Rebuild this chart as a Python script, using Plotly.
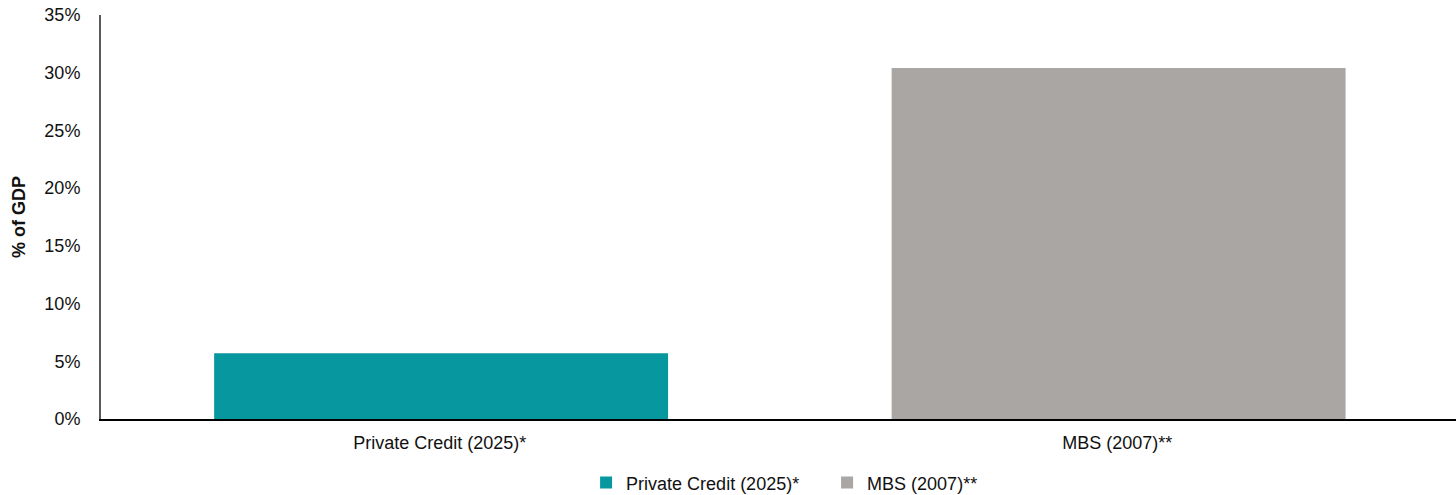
import plotly.graph_objects as go

categories = ["Private Credit (2025)*", "MBS (2007)**"]
values = [5.7, 30.4]
colors = ["#07979F", "#A9A6A4"]
y_ticks = [0, 5, 10, 15, 20, 25, 30, 35]
y_tick_labels = [f"{v}%" for v in y_ticks]

FONT = "Liberation Sans Narrow, Arial Narrow, Liberation Sans, Arial, sans-serif"

fig = go.Figure()
for cat, val, col in zip(categories, values, colors):
    fig.add_trace(go.Bar(
        x=[cat], y=[val], name=cat,
        marker=dict(color=col, line=dict(width=0)),
        width=0.67, offset=-0.333,
    ))

fig.update_layout(
    width=1456, height=495,
    margin=dict(l=101, r=0, t=15, b=76, autoexpand=False),
    plot_bgcolor="white", paper_bgcolor="white",
    font=dict(family=FONT, size=18, color="#111111"),
    barmode="overlay",
    showlegend=True,
    legend=dict(
        orientation="h", x=0.358, xanchor="left", y=-0.158, yanchor="middle",
        font=dict(size=18), itemwidth=30, traceorder="normal",
        entrywidth=196, entrywidthmode="pixels",
    ),
    xaxis=dict(
        showline=True, linecolor="#000000", linewidth=2,
        ticks="", showgrid=False, zeroline=False, ticklabelstandoff=6,
        tickfont=dict(size=18), categoryorder="array", categoryarray=categories,
    ),
    yaxis=dict(
        range=[0, 35], tickvals=y_ticks, ticktext=y_tick_labels,
        showline=True, linecolor="#595959", linewidth=2,
        showgrid=False, zeroline=False, ticks="",
        ticklabelstandoff=15,
        title=dict(text="<b>% of GDP</b>", font=dict(size=18), standoff=14),
    ),
)

fig.write_html("out.html")
